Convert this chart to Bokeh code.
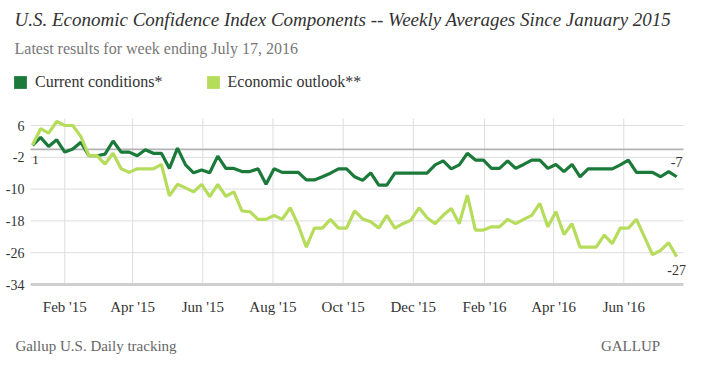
import pandas as pd
from bokeh.plotting import figure
from bokeh.models import (Label, FixedTicker, Range1d, ColumnDataSource, Legend, LegendItem,
                          LinearAxis)
from bokeh.embed import file_html
from bokeh.resources import INLINE

# ---- data ----
week_start = "2015-01-04"
week_end = "2016-07-17"
current_conditions = [1.0, 3.0, 0.7, 2.4, -0.7, 0.1, 1.8, -1.6, -1.6, -1.2, 2.1, -0.7, -0.7, -1.6,
                      -0.1, -1.0, -1.0, -4.8, 0.3, -3.9, -5.9, -5.2, -5.9, -1.7, -4.8, -4.8, -5.6, -5.6,
                      -4.9, -8.8, -4.9, -5.8, -5.8, -5.8, -7.7, -7.7, -6.9, -6.0, -4.9, -4.9, -6.9, -7.8,
                      -5.9, -9.0, -9.0, -6.0, -6.0, -6.0, -6.0, -6.0, -3.9, -2.9, -4.9, -3.9, -1.0,
                      -2.7, -2.7, -4.8, -4.8, -2.9, -4.8, -3.8, -2.7, -2.7, -4.8, -3.8, -5.6, -3.8, -6.9,
                      -4.9, -4.9, -4.9, -4.9, -3.9, -2.7, -5.8, -5.8, -5.8, -6.9, -5.6, -6.9]
economic_outlook = [1.1, 5.2, 4.1, 7.0, 6.0, 6.0, 3.2, -1.6, -1.6, -3.7, -1.0, -4.9, -5.8, -4.9,
                    -4.9, -4.9, -3.8, -11.7, -8.8, -9.7, -10.7, -8.8, -11.9, -8.8, -11.8, -10.7, -15.5, -15.7,
                    -17.6, -17.6, -16.6, -17.6, -14.7, -19.1, -24.6, -19.8, -19.8, -17.6, -19.8, -19.8, -15.5, -17.5,
                    -18.2, -19.8, -16.6, -19.8, -18.7, -17.8, -14.7, -17.2, -18.7, -16.6, -14.9, -18.7, -11.5,
                    -20.3, -20.3, -19.5, -19.5, -17.6, -18.7, -17.6, -16.6, -13.6, -19.5, -15.7, -21.4, -18.7, -24.6,
                    -24.6, -24.6, -21.6, -23.7, -19.8, -19.8, -17.6, -22.0, -26.5, -25.4, -23.5, -27.0]
series_names = ["Current conditions*", "Economic outlook**"]
tick_dates = ["2015-02-01", "2015-04-01", "2015-06-01", "2015-08-01", "2015-10-01",
              "2015-12-01", "2016-02-01", "2016-04-01", "2016-06-01"]
tick_labels = ["Feb '15", "Apr '15", "Jun '15", "Aug '15", "Oct '15",
               "Dec '15", "Feb '16", "Apr '16", "Jun '16"]
y_ticks = [6, -2, -10, -18, -26, -34]
y_tick_labels = ["6", "-2", "-10", "-18", "-26", "-34"]
start_label = "1"
end_labels = ["-7", "-27"]
title_text = "U.S. Economic Confidence Index Components -- Weekly Averages Since January 2015"
subtitle_text = "Latest results for week ending July 17, 2016"
source_text = "Gallup U.S. Daily tracking"
brand_text = "GALLUP"

# ---- layout helpers: page pixels -> data units (chart area 30..683 px, 6 at 125 px, -34 at 284 px) ----
PX_PER_DAY = 1.1502
PX_PER_UNIT = 3.975
FRAME_BOTTOM = 292
def xd(px):
    return 1.2 + (px - 30) / PX_PER_DAY
def yd(py):
    return 6 - (py - 125) / PX_PER_UNIT

origin = pd.Timestamp("2015-01-01")
weeks = pd.date_range(week_start, week_end, freq="W-SUN")
xdays = [(d - origin).days for d in weeks]
tick_x = [(pd.Timestamp(d) - origin).days for d in tick_dates]

DARK = "#1b7a3a"
LIGHT = "#b6dc5c"
SERIF = "Liberation Serif"
GRID = "#dddddd"

p = figure(width=720, height=374, output_backend="svg", toolbar_location=None,
           x_range=Range1d(xd(0), xd(720)), y_range=Range1d(yd(FRAME_BOTTOM), yd(0)),
           min_border_left=0, min_border_right=0, min_border_top=0,
           min_border_bottom=374 - FRAME_BOTTOM)
p.outline_line_color = None
p.xgrid.visible = False
p.ygrid.visible = False
p.yaxis.visible = False

# x axis (tick labels only)
p.xaxis.ticker = FixedTicker(ticks=tick_x)
p.xaxis.major_label_overrides = {t: l for t, l in zip(tick_x, tick_labels)}
p.xaxis.axis_line_color = None
p.xaxis.major_tick_line_color = None
p.xaxis.minor_tick_line_color = None
p.xaxis.major_label_standoff = 0
p.xaxis.major_label_text_font = SERIF
p.xaxis.major_label_text_font_size = "15px"
p.xaxis.major_label_text_color = "#333333"

# footer line as a second, line-less axis
foot_x = [xd(95.5), xd(630)]
foot = LinearAxis(ticker=FixedTicker(ticks=foot_x),
                  major_label_overrides={foot_x[0]: source_text, foot_x[1]: brand_text},
                  axis_line_color=None, major_tick_line_color=None, minor_tick_line_color=None,
                  major_label_standoff=14, major_label_text_font=SERIF,
                  major_label_text_font_size="15px", major_label_text_color="#666666")
p.add_layout(foot, "below")

# grid
x_left, x_right = xd(30), xd(683)
grid_y = y_ticks[:-1]
p.segment(x0=x_left, x1=x_right, y0=grid_y, y1=grid_y, line_color=GRID, line_width=1)
p.segment(x0=tick_x, x1=tick_x, y0=y_ticks[-1], y1=yd(118), line_color=GRID, line_width=1)
p.segment(x0=x_left, x1=x_right, y0=0, y1=0, line_color="#b3b3b3", line_width=1.6)
p.segment(x0=x_left, x1=x_right, y0=y_ticks[-1], y1=y_ticks[-1], line_color="#cfcfcf", line_width=3)

# y tick labels
p.text(x=xd(24), y=y_ticks, text=y_tick_labels, text_align="right", text_baseline="middle",
       text_font={"value": SERIF}, text_font_size="14px", text_color="#333333")

# series
src = ColumnDataSource(dict(x=xdays, cur=current_conditions, out=economic_outlook))
p.line("x", "cur", source=src, line_color=DARK, line_width=3.2)
p.line("x", "out", source=src, line_color=LIGHT, line_width=3.2)

# legend with square swatches (swatch renderers hold no drawable data)
nan = float("nan")
sw1 = p.quad(left=[nan], right=[nan], top=[nan], bottom=[nan], fill_color=DARK, line_color=None)
sw2 = p.quad(left=[nan], right=[nan], top=[nan], bottom=[nan], fill_color=LIGHT, line_color=None)
legend = Legend(items=[LegendItem(label=series_names[0], renderers=[sw1]),
                       LegendItem(label=series_names[1], renderers=[sw2])],
                orientation="horizontal", location=(12, FRAME_BOTTOM - 91), margin=0, padding=0,
                spacing=42, glyph_width=16, glyph_height=16, label_height=16,
                label_standoff=7, label_text_font=SERIF, label_text_font_size="16px",
                label_text_color="#333333", border_line_color=None, background_fill_alpha=0)
p.add_layout(legend)

# titles
p.add_layout(Label(x=xd(14), y=yd(19), text=title_text, text_baseline="middle",
                   text_font=SERIF, text_font_size="19px", text_font_style="italic",
                   text_color="#333333"))
p.add_layout(Label(x=xd(14), y=yd(48), text=subtitle_text, text_baseline="middle",
                   text_font=SERIF, text_font_size="16px", text_color="#777777"))

# value labels
p.add_layout(Label(x=xdays[0], y=current_conditions[0], text=start_label, x_offset=3, y_offset=-15,
                   text_align="center", text_baseline="middle", text_font=SERIF,
                   text_font_size="13px", text_color="#333333"))
p.add_layout(Label(x=xdays[-1], y=current_conditions[-1], text=end_labels[0], y_offset=15,
                   text_align="center", text_baseline="middle", text_font=SERIF,
                   text_font_size="14px", text_color="#333333"))
p.add_layout(Label(x=xdays[-1], y=economic_outlook[-1], text=end_labels[1], y_offset=-13,
                   text_align="center", text_baseline="middle", text_font=SERIF,
                   text_font_size="14px", text_color="#333333"))

open("out.html", "w").write(file_html(p, INLINE))
